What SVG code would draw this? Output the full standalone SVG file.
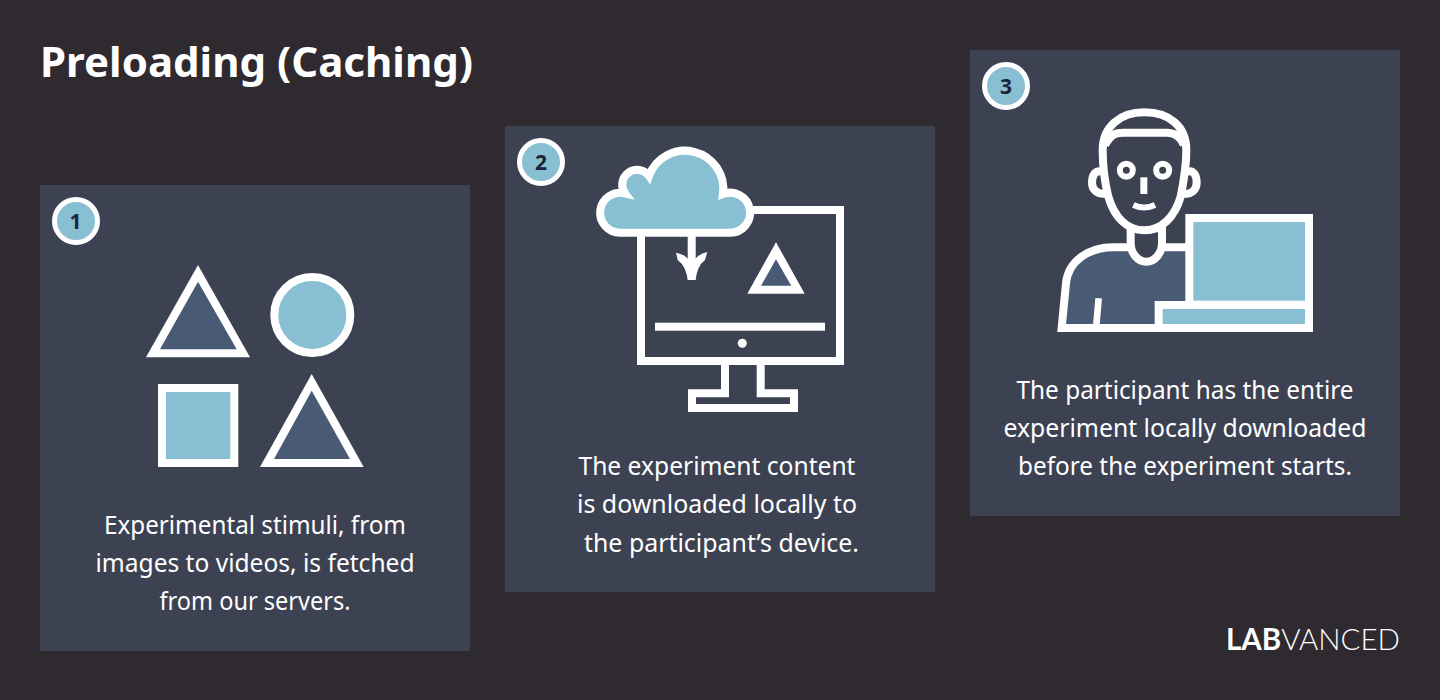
<svg xmlns="http://www.w3.org/2000/svg" width="1440" height="700" viewBox="0 0 1440 700">
<style>
.panel{fill:#3d4253}
.w{fill:#fff}
.lb{fill:#89bfd3}
.db{fill:#495a75}
.s{stroke:#fff;stroke-width:8;stroke-linejoin:miter}
.n{fill:none}
.badge{fill:#89bfd3;stroke:#fff;stroke-width:5}
.num{font-family:"Noto Sans","Liberation Sans",sans-serif;font-weight:700;font-size:21px;fill:#1f2238;text-anchor:middle}
.body{font-family:"Noto Sans","Liberation Sans",sans-serif;font-size:25px;fill:#fff;text-anchor:middle}
.title{font-family:"Noto Sans","Liberation Sans",sans-serif;font-weight:700;font-size:42px;fill:#fff}
</style>
<rect width="1440" height="700" fill="#2e2a30"/>
<text class="title" x="40" y="77" textLength="433" lengthAdjust="spacingAndGlyphs">Preloading (Caching)</text>

<g id="panel-1">
<rect class="panel" x="40" y="185" width="430" height="466"/>
<circle class="badge" cx="76" cy="221" r="21.5"/>
<text class="num" x="75.5" y="229">1</text>
<polygon class="w" points="198,265 250,357.3 146,357.3"/>
<polygon class="db" points="198,281.7 236.7,349.3 160,349.3"/>
<circle class="lb s" cx="312.3" cy="315" r="38"/>
<rect class="lb s" x="162" y="388" width="72.3" height="75"/>
<polygon class="w" points="311.7,374 363.7,467 260,467"/>
<polygon class="db" points="311.7,390.7 350,459 274,459"/>
<text class="body" x="255" y="534" textLength="302" lengthAdjust="spacingAndGlyphs">Experimental stimuli, from</text>
<text class="body" x="255" y="572" textLength="319" lengthAdjust="spacingAndGlyphs">images to videos, is fetched</text>
<text class="body" x="255" y="610" textLength="191" lengthAdjust="spacingAndGlyphs">from our servers.</text>
</g>

<g id="panel-2">
<rect class="panel" x="505" y="126" width="430" height="466"/>
<circle class="badge" cx="541" cy="162" r="21.5"/>
<text class="num" x="541" y="170">2</text>
<rect class="s n" x="641" y="210" width="199" height="151"/>
<path class="s n" d="M725,365V393.3H692V408H794V393.3H760.7V365"/>
<rect class="w" x="655" y="322.7" width="170" height="8"/>
<circle class="w" cx="742.3" cy="343.3" r="4.5"/>
<polygon class="w" points="776,242.3 804.7,293.7 747.3,293.7"/>
<polygon class="db" points="776,259.3 791.3,285.7 761,285.7"/>
<path class="lb s" d="M620,232.7H730.3A20,20 0 1 0 723,194A38.3,38.3 0 0 0 649,176A14,14 0 0 0 625,193.3A20,20 0 1 0 620,232.7Z"/>
<rect class="w" x="687.7" y="236" width="8" height="34"/>
<path class="w" d="M676,252.7L677.7,260Q686,266 687.7,280H695.7Q697,266 705,260L707.3,252Q697,254 691.7,264Q686,254 676,252.7Z"/>
<text class="body" x="717" y="475" textLength="277" lengthAdjust="spacingAndGlyphs">The experiment content</text>
<text class="body" x="717" y="513" textLength="280" lengthAdjust="spacingAndGlyphs">is downloaded locally to</text>
<text class="body" x="721.5" y="552" textLength="275" lengthAdjust="spacingAndGlyphs">the participant’s device.</text>
</g>

<g id="panel-3">
<rect class="panel" x="970" y="50" width="430" height="466"/>
<circle class="badge" cx="1006" cy="86" r="21.5"/>
<text class="num" x="1006" y="94">3</text>
<g transform="translate(970,50) scale(.33333)">
<path d="M275,834L288,700C295,630 360,592 430,592H660V834Z" class="db" stroke="#fff" stroke-width="24"/>
<path d="M386,745L379,825" fill="none" stroke="#fff" stroke-width="20"/>
<path d="M482,535V578A47,57 0 0 0 576,578V535Z" fill="#3d4253" stroke="#fff" stroke-width="24"/>
<path d="M398,365C375,358 366,378 366,398C366,420 385,436 408,430" fill="none" stroke="#fff" stroke-width="24"/>
<path d="M650,365C672,358 680,378 680,398C680,420 662,436 640,430" fill="none" stroke="#fff" stroke-width="24"/>
<path d="M398,300C398,230 450,187 523,187C600,187 649,230 649,300C649,345 640,400 632,440C615,500 575,541 523,541C470,541 432,500 415,440C405,400 398,345 398,300Z" fill="#3d4253" stroke="#fff" stroke-width="24"/>
<path d="M405,285C425,250 440,248 460,248H590C610,248 630,255 642,285" fill="none" stroke="#fff" stroke-width="24"/>
<circle cx="469" cy="361" r="19.5" fill="none" stroke="#fff" stroke-width="18"/>
<circle cx="578" cy="361" r="19.5" fill="none" stroke="#fff" stroke-width="18"/>
<rect class="w" x="511" y="382" width="21" height="50"/>
<path d="M490,465Q522,480 555,465" fill="none" stroke="#fff" stroke-width="18"/>
<rect class="lb" x="658" y="504" width="359" height="260" stroke="#fff" stroke-width="24"/>
<rect class="lb" x="566" y="765" width="451" height="69" stroke="#fff" stroke-width="24"/>
</g>
<text class="body" x="1185" y="399" textLength="337" lengthAdjust="spacingAndGlyphs">The participant has the entire</text>
<text class="body" x="1185" y="437" textLength="363" lengthAdjust="spacingAndGlyphs">experiment locally downloaded</text>
<text class="body" x="1185" y="475" textLength="334" lengthAdjust="spacingAndGlyphs">before the experiment starts.</text>
</g>

<g id="logo">
<text x="1226" y="649.5" font-family="Lato,'Noto Sans',sans-serif" font-size="30" fill="#fff" textLength="174" lengthAdjust="spacingAndGlyphs"><tspan font-weight="700">LAB</tspan><tspan font-weight="300">VANCED</tspan></text>
</g>
</svg>
